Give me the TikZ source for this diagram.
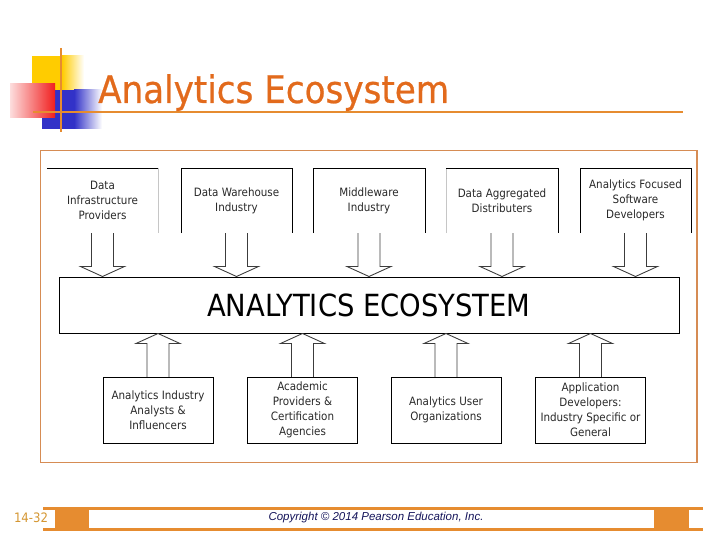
\documentclass[tikz,border=0pt]{standalone}
\usepackage{fontspec}
\setmainfont{DejaVu Sans Condensed}
\newfontfamily\arialfont{Liberation Sans}
\newfontfamily\titlefont[FakeBold=0.6]{DejaVu Sans Condensed}
\usetikzlibrary{calc}
\definecolor{titleorange}{RGB}{226,106,28}
\definecolor{lineorange}{RGB}{230,140,48}
\definecolor{frameorange}{RGB}{214,140,84}
\definecolor{pagenum}{RGB}{212,150,50}
\definecolor{navy}{RGB}{20,20,90}
\definecolor{boxtext}{RGB}{40,40,40}
\definecolor{arrowgray}{RGB}{60,60,60}
\definecolor{ysq}{RGB}{255,204,0}
\definecolor{bsq}{RGB}{50,50,200}
\definecolor{rsq}{RGB}{240,30,30}

\begin{document}
\begin{tikzpicture}[x=1pt,y=-1pt]
			\tikzstyle{TopBox} = [minimum width=111, minimum height=65, inner sep=0pt, align=center, text=boxtext, font=\fontsize{11.5}{15}\selectfont]
			\tikzstyle{BottomBox} = [draw, minimum width=110, minimum height=66, inner sep=0pt, align=center, text=boxtext, font=\fontsize{11.5}{15}\selectfont]
			\tikzstyle{DownArrow} = [draw=arrowgray, line width=0.9, to path={let \p1=(\tikztostart), \p2=(\tikztotarget) in (\x1-11pt,\y1) -- (\x1-11pt,\y2+10pt) -- (\x1-22pt,\y2+10pt) -- (\x2,\y2) -- (\x1+22pt,\y2+10pt) -- (\x1+11pt,\y2+10pt) -- (\x1+11pt,\y1)}]
			\tikzstyle{UpArrow} = [draw=arrowgray, line width=0.9, to path={let \p1=(\tikztostart), \p2=(\tikztotarget) in (\x1-11pt,\y1) -- (\x1-11pt,\y2-10pt) -- (\x1-22pt,\y2-10pt) -- (\x2,\y2) -- (\x1+22pt,\y2-10pt) -- (\x1+11pt,\y2-10pt) -- (\x1+11pt,\y1)}]
			\useasboundingbox (0,0) rectangle (720,540);
			% title squares and lines
			\fill [ysq] (32,56) rectangle (62,90);
			\shade [left color=ysq, right color=white] (62,56) rectangle (84,90);
			\fill [bsq] (42,90) rectangle (74,129);
			\shade [left color=bsq, right color=white] (74,90) rectangle (102,129);
			\shade [left color=rsq!15, right color=rsq] (10,84) rectangle (55,118);
			\draw [lineorange, line width=2] (61,48) -- (61,132);
			\draw [lineorange, line width=2.5] (33,112) -- (683,112);
			\node (title) at (98,103) [anchor=base west, inner sep=0pt, text=titleorange, font=\titlefont\fontsize{38}{44}\selectfont] {Analytics Ecosystem};
			% frame
			\draw [frameorange, line width=1.2] (40.5,150.5) rectangle (697,462.5);
			% boxes
			\node (t1) at (102.5,200.5) [TopBox] {Data\\Infrastructure\\Providers};
			\node (t2) at (236.5,200.5) [TopBox] {Data Warehouse\\Industry};
			\node (t3) at (369,200.5) [TopBox] {Middleware\\Industry};
			\node (t4) at (502,200.5) [TopBox] {Data Aggregated\\Distributers};
			\node (t5) at (635.5,200.5) [TopBox] {Analytics Focused\\Software\\Developers};
			\node (eco) at (369,305) [draw, line width=1, minimum width=620, minimum height=56, inner sep=0pt, font=\fontsize{30.5}{34}\selectfont] {ANALYTICS ECOSYSTEM};
			\node (b1) at (158,410) [BottomBox] {Analytics Industry\\Analysts \&\\Influencers};
			\node (b2) at (302.5,410) [BottomBox] {Academic\\Providers \&\\Certification\\Agencies};
			\node (b3) at (446,410) [BottomBox] {Analytics User\\Organizations};
			\node (b4) at (590.5,410) [BottomBox] {Application\\Developers:\\Industry Specific or\\General};
			\draw (t1.north west) -- (t1.north east);
			\draw [gray!45] (t1.north east) -- (t1.south east);
			\draw (t2.south west) |- (t2.north east) -- (t2.south east);
			\draw (t3.south west) |- (t3.north east) -- (t3.south east);
			\draw [gray!45] (t4.south west) -- (t4.north west);
			\draw (t4.north west) -- (t4.north east) -- (t4.south east);
			\draw (t5.south west) |- (t5.north east) -- (t5.south east);
			% arrows
			\draw [DownArrow] (t1.south) to (t1.south |- eco.north);
			\draw [DownArrow] (t2.south) to (t2.south |- eco.north);
			\draw [DownArrow] (t3.south) to (t3.south |- eco.north);
			\draw [DownArrow] (t4.south) to (t4.south |- eco.north);
			\draw [DownArrow] (t5.south) to (t5.south |- eco.north);
			\draw [UpArrow] (b1.north) to (b1.north |- eco.south);
			\draw [UpArrow] (b2.north) to (b2.north |- eco.south);
			\draw [UpArrow] (b3.north) to (b3.north |- eco.south);
			\draw [UpArrow] (b4.north) to (b4.north |- eco.south);
			% footer
			\fill [lineorange] (43,507) rectangle (703,510);
			\fill [lineorange] (43,528) rectangle (703,531);
			\fill [lineorange] (55,507) rectangle (89,531);
			\fill [lineorange] (654,507) rectangle (689,531);
			\node (page) at (31,518) [text=pagenum, font=\fontsize{13}{13}\selectfont] {14-32};
			\node (copy) at (376,518) [text=navy, font=\arialfont\itshape\fontsize{11.5}{12}\selectfont] {Copyright © 2014 Pearson Education, Inc.};
		\end{tikzpicture}
\end{document}
